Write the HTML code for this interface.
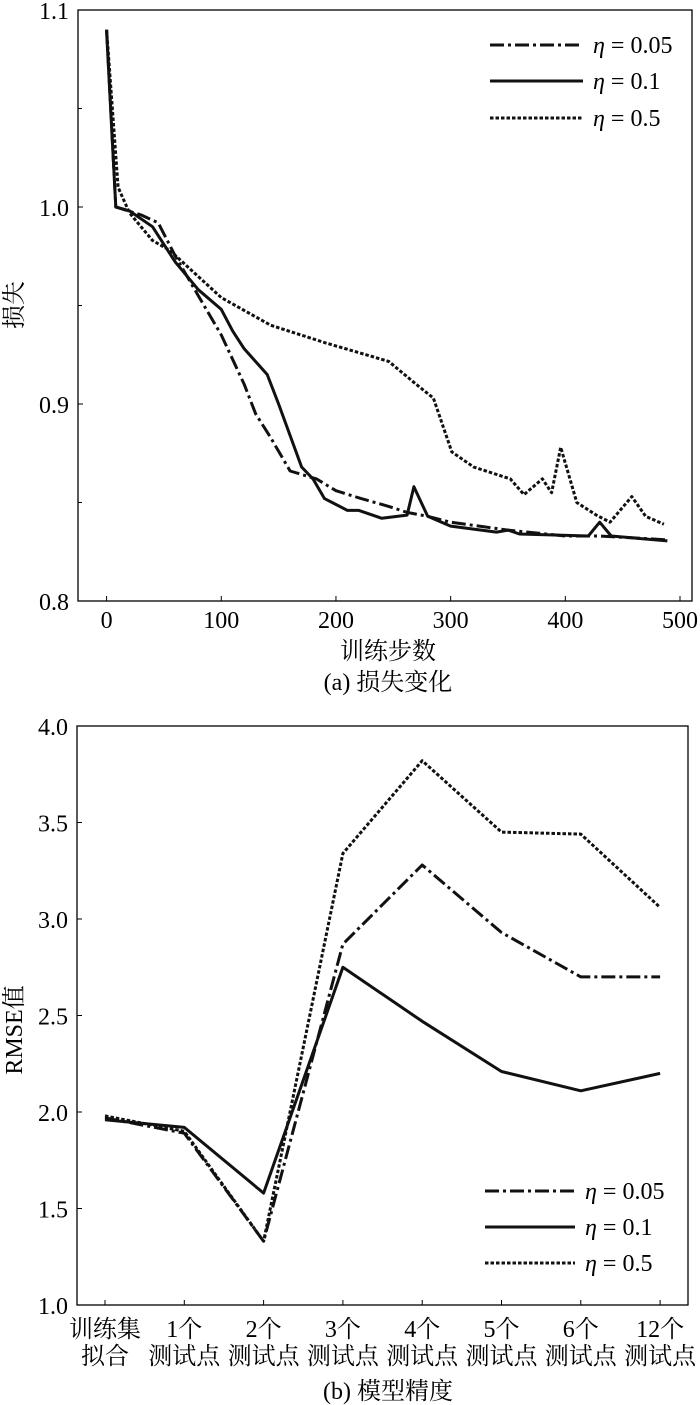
<!DOCTYPE html>
<html><head><meta charset="utf-8"><style>
html,body{margin:0;padding:0;background:#fff;}
svg{display:block;font-family:"Liberation Serif","Noto Serif CJK SC","Noto Sans CJK SC",serif;}
</style></head><body>
<svg id="chart" width="700" height="1405" viewBox="0 0 700 1405" xmlns="http://www.w3.org/2000/svg"></svg>
<script>
// ---- Chart (a) data ----
const lossTicksY = [0.8, 0.9, 1.0, 1.1];
const lossTicksX = [0, 100, 200, 300, 400, 500];
const steps05 = [0,8,30,45,60,80,100,120,130,143,160,183,200,222,246,262,280,300,350,400,430,490];
const loss05  = [1.09,1.0,0.996,0.992,0.975,0.955,0.935,0.91,0.895,0.883,0.866,0.862,0.856,0.852,0.848,0.845,0.843,0.840,0.836,0.833,0.833,0.831];
const steps1 = [0,8,20,40,60,80,100,110,120,140,150,160,170,180,190,200,210,220,240,262,268,280,300,340,350,360,420,430,440,489];
const loss1  = [1.089,1.0,0.998,0.99,0.972,0.958,0.948,0.937,0.928,0.915,0.9,0.884,0.868,0.862,0.852,0.849,0.846,0.846,0.842,0.8436,0.858,0.843,0.838,0.835,0.836,0.834,0.833,0.840,0.833,0.8305];
const steps5 = [0,10,20,40,55,70,100,143,191,246,270,285,301,320,352,364,380,388,396,410,427,439,458,470,486];
const loss5  = [1.09,1.01,0.997,0.983,0.978,0.97,0.954,0.94,0.931,0.9216,0.91,0.903,0.8757,0.868,0.862,0.854,0.862,0.855,0.878,0.85,0.8436,0.840,0.853,0.843,0.839];
// ---- Chart (b) data ----
const catLine1 = ["训练集","1个","2个","3个","4个","5个","6个","12个"];
const catLine2 = ["拟合","测试点","测试点","测试点","测试点","测试点","测试点","测试点"];
const rmseTicks = [1.0,1.5,2.0,2.5,3.0,3.5,4.0];
const rmse05 = [1.97,1.89,1.33,2.87,3.28,2.93,2.70,2.70];
const rmse1  = [1.96,1.92,1.58,2.75,2.47,2.21,2.11,2.20];
const rmse5  = [1.98,1.90,1.33,3.34,3.82,3.45,3.44,3.06];

const NS="http://www.w3.org/2000/svg";
const svg=document.getElementById('chart');
function mk(tag,attrs,parent){const e=document.createElementNS(NS,tag);for(const k in attrs)e.setAttribute(k,attrs[k]);(parent||svg).appendChild(e);return e;}
function txt(s,x,y,size,anchor,parent){const t=mk('text',{x:x,y:y,'font-size':size,'text-anchor':anchor||'middle',fill:'#000'},parent);t.textContent=s;return t;}
const styles={
  d05:{'stroke-dasharray':'14 4 3 4','stroke-width':3},
  d1:{'stroke-width':3},
  d5:{'stroke-dasharray':'3.5 2','stroke-width':3}
};
function line(pts,style,parent){const p=mk('path',Object.assign({d:'M'+pts.map(q=>q[0].toFixed(1)+','+q[1].toFixed(1)).join('L'),fill:'none',stroke:'#111','stroke-linejoin':'round'},style),parent);return p;}
const FS=24;

// ===== Chart A =====
const A={l:78,r:692,t:10,b:601};
const ax=v=>106.6+(v/500)*573.4;
const ay=v=>601-(v-0.8)/0.3*591;
const gA=mk('g',{});


const frameA=mk('rect',{x:A.l,y:A.t,width:A.r-A.l,height:A.b-A.t,fill:'none',stroke:'#000','stroke-width':1.3},gA);


lossTicksY.forEach(v=>{
  const y=ay(v);
  mk('line',{x1:A.l,x2:A.l+5,y1:y,y2:y,stroke:'#000'},gA);
  const t=txt(v.toFixed(1),A.l-9,y+9,FS,'end',gA);
  
  
});
[0.85,0.95,1.05].forEach(v=>{const y=ay(v);mk('line',{x1:A.l,x2:A.l+4,y1:y,y2:y,stroke:'#000'},gA);});
lossTicksX.forEach(v=>{
  const x=ax(v);
  mk('line',{x1:x,x2:x,y1:A.b,y2:A.b-5,stroke:'#000'},gA);
  const t=txt(String(v),x,628,FS,'middle',gA);
  
  
});
const sA05=line(steps05.map((s,i)=>[ax(s),ay(loss05[i])]),styles.d05,gA);


const sA1=line(steps1.map((s,i)=>[ax(s),ay(loss1[i])]),styles.d1,gA);


const sA5=line(steps5.map((s,i)=>[ax(s),ay(loss5[i])]),styles.d5,gA);


const ytA=txt('损失',0,0,FS,'middle',gA);ytA.setAttribute('transform','translate(22,305) rotate(-90)');


const xtA=txt('训练步数',388,659,FS,'middle',gA);


const capA=txt('(a) 损失变化',388,690,FS,'middle',gA);



function legend(ys,parent,x1,x2){
  const labels=['0.05','0.1','0.5'];const st=[styles.d05,styles.d1,styles.d5];
  ys.forEach((y,i)=>{
    const g=mk('g',{},parent);
    
    
    mk('line',Object.assign({x1:x1,x2:x2,y1:y,y2:y,stroke:'#111'},st[i]),g);
    const t=mk('text',{x:x2+10,y:y+8,'font-size':FS,fill:'#000'},g);
    const it=mk('tspan',{'font-style':'italic'},t);it.textContent='η';
    const r=mk('tspan',{},t);r.textContent=' = '+labels[i];
  });
}
legend([45,81,118],gA,490,583);

// ===== Chart B =====
const B={l:77,r:688,t:726,b:1305};
const bx=i=>105+i*79.3;
const by=v=>1305-(v-1.0)/3.0*579;
const gB=mk('g',{});


const frameB=mk('rect',{x:B.l,y:B.t,width:B.r-B.l,height:B.b-B.t,fill:'none',stroke:'#000','stroke-width':1.3},gB);


rmseTicks.forEach(v=>{
  const y=by(v);
  mk('line',{x1:B.l,x2:B.l+5,y1:y,y2:y,stroke:'#000'},gB);
  const t=txt(v.toFixed(1),B.l-9,y+9,FS,'end',gB);
  
  
});
catLine1.forEach((c,i)=>{
  const x=bx(i);
  mk('line',{x1:x,x2:x,y1:B.b,y2:B.b-5,stroke:'#000'},gB);
  const t1=txt(c,x,1337,FS,'middle',gB);
  
  
  const t2=txt(catLine2[i],x,1364,FS,'middle',gB);
  
  
});
const sB05=line(rmse05.map((v,i)=>[bx(i),by(v)]),styles.d05,gB);


const sB1=line(rmse1.map((v,i)=>[bx(i),by(v)]),styles.d1,gB);


const sB5=line(rmse5.map((v,i)=>[bx(i),by(v)]),styles.d5,gB);


const ytB=txt('RMSE值',0,0,FS,'middle',gB);ytB.setAttribute('transform','translate(22,1030) rotate(-90)');


const capB=txt('(b) 模型精度',388,1399,FS,'middle',gB);


legend([1191,1227,1263],gB,485,575);
</script>
</body></html>
